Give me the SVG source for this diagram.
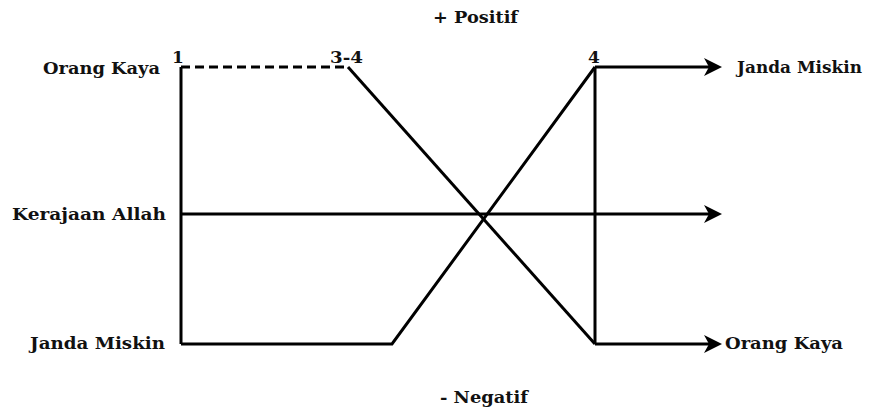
<svg xmlns="http://www.w3.org/2000/svg" width="875" height="410" viewBox="0 0 875 410">
<style>
text{font-family:"DejaVu Serif","Liberation Serif",serif;font-weight:bold;font-size:17px;fill:#111}
.ln{stroke:#000;stroke-width:3;fill:none;stroke-linejoin:miter}
.dash{stroke-dasharray:9,5}
.ah{fill:#000}
</style>
<rect width="875" height="410" fill="#fff"/>
<g id="labels">
<text x="433" y="23" textLength="85" lengthAdjust="spacingAndGlyphs">+ Positif</text>
<text x="440" y="403" textLength="88" lengthAdjust="spacingAndGlyphs">- Negatif</text>
</g>
<g id="n-orang-kaya-left"><text x="43" y="74" textLength="117" lengthAdjust="spacingAndGlyphs">Orang Kaya</text><text x="178" y="63" text-anchor="middle">1</text></g>
<g id="n-kerajaan"><text x="12" y="220" textLength="154" lengthAdjust="spacingAndGlyphs">Kerajaan Allah</text></g>
<g id="n-janda-left"><text x="30" y="349" textLength="135" lengthAdjust="spacingAndGlyphs">Janda Miskin</text></g>
<g id="n-34"><text x="330" y="63" textLength="33" lengthAdjust="spacingAndGlyphs">3-4</text></g>
<g id="n-4"><text x="594" y="63" text-anchor="middle">4</text></g>
<g id="n-janda-right"><text x="737" y="73" textLength="125" lengthAdjust="spacingAndGlyphs">Janda Miskin</text></g>
<g id="n-orang-kaya-right"><text x="725" y="349" textLength="118" lengthAdjust="spacingAndGlyphs">Orang Kaya</text></g>
<g id="connectors">
<path class="ln" d="M181,344 V67"/>
<path class="ln dash" d="M181,67 H348"/>
<path class="ln" d="M348,67 L595,344"/>
<path class="ln" d="M181,344 H392 L595,67"/>
<path class="ln" d="M595,67 V344"/>
<path class="ln" d="M181,214 H712"/>
<path class="ln" d="M595,67 H712"/>
<path class="ln" d="M595,344 H712"/>
<path class="ah" d="M704,205 L722,214 L704,223 L709,214 Z"/>
<path class="ah" d="M704,58 L722,67 L704,76 L709,67 Z"/>
<path class="ah" d="M704,335 L722,344 L704,353 L709,344 Z"/>
</g>
</svg>
